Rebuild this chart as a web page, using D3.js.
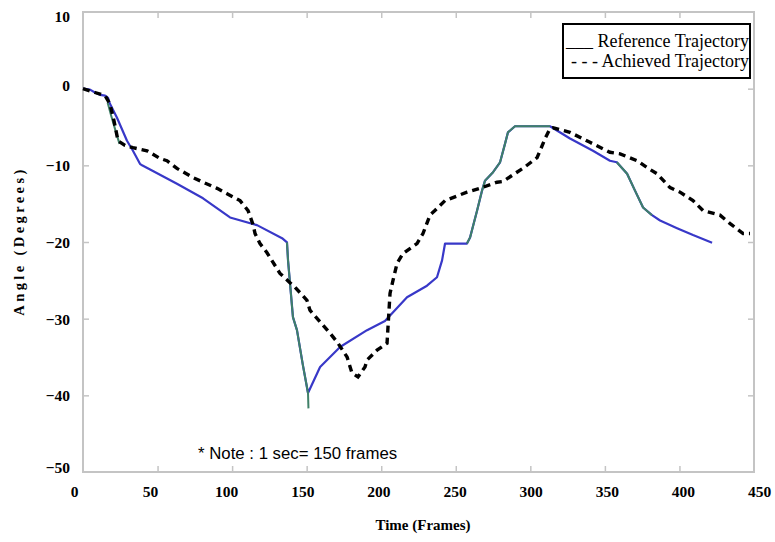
<!DOCTYPE html>
<html>
<head>
<meta charset="utf-8">
<script src="https://cdn.jsdelivr.net/npm/d3@7"></script>
<style>
  body { margin: 0; background: #fff; }
  svg { display: block; }
</style>
</head>
<body>
<svg id="chart" width="775" height="542"></svg>
<script>
// Reference trajectory (blue)
const refFrame = [0, 4.7, 8, 11.4, 14.8, 16.8, 18, 22.8, 29.5, 33.5, 38.2, 39.6, 45, 63, 80.5, 98.6, 116.7, 133.5, 136.8,
  137.5, 140.8, 143.5, 147.5, 150.9, 159, 172.4, 190.5, 202.5, 217.3, 230.7, 237.4, 240.8, 242.8, 257.5,
  259.6, 264.3, 267.6, 269.6, 275, 279.7, 283, 285, 289.7, 313.2, 326.6, 342, 353.4, 358,
  364.9, 370.2, 375.6, 381.6, 387, 398.4, 409.1, 421.9];
const refAngle = [0, -0.13, -0.5, -0.8, -0.9, -1.2, -1.95, -3.8, -6.8, -8.1, -9.8, -10, -10.55, -12.4, -14.3, -16.8, -17.8, -19.5, -20.05,
  -22.4, -29.8, -31.5, -36.1, -39.7, -36.3, -33.7, -31.5, -30.3, -27.2, -25.7, -24.6, -22.4, -20.2, -20.2,
  -19.4, -15.9, -13.3, -12, -10.9, -9.6, -7.2, -5.7, -4.9, -4.9, -6.5, -8.1, -9.4, -9.6,
  -11.1, -13.3, -15.5, -16.5, -17.2, -18.2, -19.1, -20.1];

// Green keyframe segments (null separates segments)
const keyFrame = [16.5, 19, 22, 24.5, null,
  136.8, 137.5, 140.8, 143.5, 147.5, 150.9, 151.2, null,
  257.5, 259.6, 264.3, 267.6, 269.6, 275, 279.7, 283, 285, 289.7, 313.2, null,
  358, 364.9, 370.2, 375.6, 381.6];
const keyAngle = [-1.8, -3.6, -5.6, -7.2, null,
  -20.05, -22.4, -29.8, -31.5, -36.1, -39.7, -41.7, null,
  -20.2, -19.4, -15.9, -13.3, -12, -10.9, -9.6, -7.2, -5.7, -4.9, -4.9, null,
  -9.6, -11.1, -13.3, -15.5, -16.5];

// Achieved trajectory (black dashed)
const achFrame = [0, 8, 14.8, 18.1, 20.8, 23.5, 28.2, 33.5, 42.9, 51.6, 56.3, 63, 73.8, 80.5, 89.9, 96.6, 105.3,
  110.7, 114, 115.4, 118.7, 123.4, 132.1, 138.8, 142.2, 150.2, 152.2, 165.7, 171, 177.1, 180.4, 184.4,
  189.1, 190.5, 197.2, 203.9, 205.9, 207.9, 210.6, 214.6, 224, 228, 232.7, 236, 242.8, 257.5, 267.6,
  277.7, 281.7, 291, 295, 304.5, 306.5, 309.9, 313.2, 315.2, 326.6, 340, 353.4, 360.2, 371.6, 378.3,
  385, 393.7, 400.4, 409.1, 415.8, 427.2, 434, 442.7, 447.3];
const achAngle = [0, -0.5, -0.9, -2, -4.2, -6.8, -7.4, -7.7, -8.1, -9.1, -9.4, -10.4, -11.6, -12.2, -13, -13.7, -14.6,
  -15.9, -17.7, -18.9, -20.2, -21.4, -24.1, -25.3, -25.9, -27.6, -28.9, -31.9, -33.2, -35, -37.1, -37.6,
  -36.3, -35.4, -34.1, -33.2, -26.7, -25, -22.8, -21.5, -20.2, -18.9, -16.5, -15.9, -14.6, -13.5, -12.9,
  -12.2, -12.1, -10.9, -10.4, -9, -8.1, -6.5, -5.2, -5.1, -5.7, -7, -8.3, -8.5, -9.4, -10.3,
  -11.1, -12.9, -13.5, -14.6, -15.9, -16.5, -17.6, -18.9, -18.9];

const xTicks = [0, 50, 100, 150, 200, 250, 300, 350, 400, 450];
const yTicks = [10, 0, -10, -20, -30, -40, -50];
const legendLines = ["___ Reference Trajectory", "- - - Achieved Trajectory"];
const noteText = "* Note : 1 sec= 150 frames";

const svg = d3.select("#chart");
const x = d3.scaleLinear().domain([0, 450]).range([83, 754]);
const xLab = d3.scaleLinear().domain([0, 450]).range([74, 759]);
const y = d3.scaleLinear().domain([-50, 10]).range([472, 12]);

const serif = "'Liberation Serif', 'Times New Roman', serif";
const sans = "'Liberation Sans', Arial, sans-serif";
const frameColor = "#c4c4c4";

// plot frame
svg.append("rect")
  .attr("x", x(0)).attr("y", y(10))
  .attr("width", x(450) - x(0)).attr("height", y(-50) - y(10))
  .attr("fill", "none").attr("stroke", frameColor).attr("stroke-width", 2);

// inward tick marks on all four sides
const inner = [50, 100, 150, 200, 250, 300, 350, 400];
const innerY = [0, -10, -20, -30, -40];
function tickGroup(axis, tx, ty) {
  const g = svg.append("g").attr("transform", `translate(${tx},${ty})`).call(axis);
  g.select(".domain").remove();
  g.selectAll("text").remove();
  g.selectAll("line").attr("stroke", frameColor).attr("stroke-width", 1.5);
}
tickGroup(d3.axisBottom(x).tickValues(inner).tickSize(-6), 0, y(-50));
tickGroup(d3.axisTop(x).tickValues(inner).tickSize(-6), 0, y(10));
tickGroup(d3.axisLeft(y).tickValues(innerY).tickSize(-6), x(0), 0);
tickGroup(d3.axisRight(y).tickValues(innerY).tickSize(-6), x(450), 0);

// tick labels
const xl = svg.append("g").attr("transform", `translate(0,${y(-50)})`)
  .call(d3.axisBottom(xLab).tickValues(xTicks).tickSize(0).tickPadding(14));
xl.select(".domain").remove();
xl.selectAll("text").attr("font-family", serif).attr("font-weight", "bold")
  .attr("font-size", 15.5).attr("fill", "#000");

const yl = svg.append("g").attr("transform", `translate(${x(0)},0)`)
  .call(d3.axisLeft(y).tickValues(yTicks).tickSize(0).tickPadding(13));
yl.select(".domain").remove();
yl.selectAll("text").attr("font-family", serif).attr("font-weight", "bold")
  .attr("font-size", 15.5).attr("fill", "#000")
  .attr("dy", d => d === 10 ? "0.62em" : (d === -50 ? "0.0em" : (d === 0 ? "0.12em" : "0.35em")));

// axis titles
svg.append("text")
  .attr("x", 423).attr("y", 530).attr("text-anchor", "middle")
  .attr("font-family", serif).attr("font-weight", "bold").attr("font-size", 15)
  .text("Time (Frames)");
svg.append("text")
  .attr("transform", "translate(24,241) rotate(-90)").attr("text-anchor", "middle")
  .attr("font-family", serif).attr("font-weight", "bold").attr("font-size", 14.5)
  .attr("letter-spacing", 3.4)
  .text("Angle (Degrees)");

// series
const line = d3.line()
  .defined(d => d[0] !== null && d[1] !== null)
  .x(d => x(d[0])).y(d => y(d[1]));

const refPts = d3.zip(refFrame, refAngle);
const keyPts = d3.zip(keyFrame, keyAngle);
const achPts = d3.zip(achFrame, achAngle);

svg.append("path").datum(refPts).attr("d", line)
  .attr("fill", "none").attr("stroke", "#3838c8").attr("stroke-width", 2.2)
  .attr("stroke-linejoin", "round");
svg.append("path").datum(keyPts).attr("d", line)
  .attr("fill", "none").attr("stroke", "#3f8068").attr("stroke-width", 2)
  .attr("stroke-linejoin", "round");
svg.append("path").datum(achPts).attr("d", line)
  .attr("fill", "none").attr("stroke", "#000").attr("stroke-width", 3.4)
  .attr("stroke-dasharray", "7,5");

// legend
svg.append("rect")
  .attr("x", 563).attr("y", 24).attr("width", 187).attr("height", 54)
  .attr("fill", "#fff").attr("stroke", "#000").attr("stroke-width", 2);
svg.selectAll("text.legend").data(legendLines).enter().append("text")
  .attr("class", "legend")
  .attr("x", 749).attr("y", (d, i) => 47 + i * 20)
  .attr("text-anchor", "end")
  .attr("font-family", serif).attr("font-size", 18)
  .text(d => d);

// note
svg.append("text")
  .attr("x", 198).attr("y", 459)
  .attr("font-family", sans).attr("font-size", 16.8)
  .text(noteText);
</script>
</body>
</html>
